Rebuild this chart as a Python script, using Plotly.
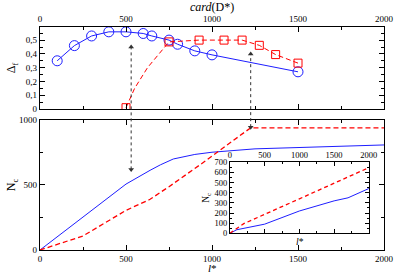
import plotly.graph_objects as go

# ---------------- data ----------------
# top panel: Delta_f vs card(D*)
blue_card = [100, 200, 300, 400, 500, 600, 650, 750, 800, 900, 1000, 1500]
blue_delta = [0.35, 0.46, 0.53, 0.56, 0.56, 0.548, 0.53, 0.50, 0.47, 0.422, 0.393, 0.27]

red_line_card = [500, 550, 625, 750, 925, 1070, 1175, 1275, 1370, 1500]
red_line_delta = [0.01, 0.15, 0.30, 0.487, 0.50, 0.50, 0.50, 0.462, 0.395, 0.333]
red_mark_card = [500, 750, 925, 1070, 1175, 1275, 1370, 1500]
red_mark_delta = [0.01, 0.487, 0.50, 0.50, 0.50, 0.462, 0.395, 0.333]

# bottom panel: N_c vs l*
blue_l = [0, 500, 640, 700, 775, 900, 1000, 1250, 2000]
blue_nc = [0, 507, 613, 655, 700, 735, 752, 778, 808]
red_l = [0, 250, 500, 640, 750, 930, 1225, 2000]
red_nc = [0, 108, 305, 390, 487, 655, 940, 940]

# inset: N_c vs l*
inset_blue_l = [0, 100, 500, 1000, 1500, 1700, 2000]
inset_blue_nc = [0, 35, 90, 220, 320, 350, 442]
inset_red_l = [0, 200, 1000, 2000]
inset_red_nc = [0, 95, 340, 648]

# dotted arrows (x position, head in top panel, head in bottom panel)
arrow_x = [530, 1225]
arrow_top_delta = [0.45, 0.40]
arrow_bottom_nc = [620, 945]

# ---------------- layout constants ----------------
W, H = 395, 274
ML, MR, MT, MB = 40, 11, 27, 24
TOP_DOM = [0.632, 1.0]
BOT_DOM = [0.0, 0.583]
TOP_RANGE = [0, 0.595]
BOT_RANGE = [0, 1000]
INSET_X_DOM = [0.552, 0.956]
INSET_Y_DOM = [0.075, 0.393]

BLUE = "rgb(30,30,255)"
RED = "rgb(255,0,0)"
ARROW = "#333333"
FONT = "Liberation Serif"

fig = go.Figure()

fig.add_trace(go.Scatter(x=blue_card, y=blue_delta, mode="lines+markers",
                         line=dict(color=BLUE, width=1),
                         marker=dict(symbol="circle-open", size=10, color=BLUE, line=dict(width=1)),
                         xaxis="x2", yaxis="y2", showlegend=False))
fig.add_trace(go.Scatter(x=red_line_card, y=red_line_delta, mode="lines",
                         line=dict(color=RED, width=1, dash="5px,3px"),
                         xaxis="x2", yaxis="y2", showlegend=False))
fig.add_trace(go.Scatter(x=red_mark_card, y=red_mark_delta, mode="markers",
                         marker=dict(symbol="square-open", size=8, color=RED, line=dict(width=1)),
                         xaxis="x2", yaxis="y2", showlegend=False))

fig.add_trace(go.Scatter(x=blue_l, y=blue_nc, mode="lines",
                         line=dict(color=BLUE, width=1), xaxis="x", yaxis="y", showlegend=False))
fig.add_trace(go.Scatter(x=red_l, y=red_nc, mode="lines",
                         line=dict(color=RED, width=1.3, dash="5px,3px"), xaxis="x", yaxis="y",
                         showlegend=False))

fig.add_trace(go.Scatter(x=inset_blue_l, y=inset_blue_nc, mode="lines",
                         line=dict(color=BLUE, width=1), xaxis="x3", yaxis="y3", showlegend=False))
fig.add_trace(go.Scatter(x=inset_red_l, y=inset_red_nc, mode="lines",
                         line=dict(color=RED, width=1.3, dash="4px,3px"), xaxis="x3", yaxis="y3",
                         showlegend=False))

# arrow heads as marker traces
fig.add_trace(go.Scatter(x=arrow_x, y=arrow_top_delta, mode="markers",
                         marker=dict(symbol="triangle-up", size=5, color=ARROW),
                         xaxis="x2", yaxis="y2", showlegend=False, cliponaxis=False))
fig.add_trace(go.Scatter(x=arrow_x, y=arrow_bottom_nc, mode="markers",
                         marker=dict(symbol="triangle-down", size=5, color=ARROW),
                         xaxis="x", yaxis="y", showlegend=False, cliponaxis=False))


def paper_y(v, dom, rng):
    return dom[0] + (v - rng[0]) / (rng[1] - rng[0]) * (dom[1] - dom[0])


shapes = []
for xa, td, bn in zip(arrow_x, arrow_top_delta, arrow_bottom_nc):
    yt = paper_y(td, TOP_DOM, TOP_RANGE)
    yb = paper_y(bn, BOT_DOM, BOT_RANGE)
    shapes.append(dict(type="line", xref="x", yref="paper", x0=xa, x1=xa, y0=yb, y1=yt,
                       line=dict(color=ARROW, width=1, dash="dot")))

tickfont = dict(family=FONT, size=9, color="black")
insetfont = dict(family=FONT, size=8.5, color="black")
common = dict(showline=True, linecolor="black", linewidth=1.2, mirror="ticks", ticks="inside",
              ticklen=5, tickcolor="black", showgrid=False, zeroline=False, tickfont=tickfont,
              automargin=False)

delta_ticks = [0, 0.1, 0.2, 0.3, 0.4, 0.5]
delta_text = ["0", "0,1", "0,2", "0,3", "0,4", "0,5"]


def label(text, x, y, size, angle=0):
    return dict(text=text, x=x, y=y, xref="paper", yref="paper", xanchor="center", yanchor="middle",
                textangle=angle, showarrow=False, font=dict(family=FONT, size=size, color="black"))


annotations = [
    label("<i>card</i>(D*)", 0.5, 1.09, 12),
    label("Δ<sub>f</sub>", -0.081, 0.816, 12, -90),
    label("N<sub>c</sub>", -0.081, 0.291, 12, -90),
    label("<i>l</i>*", 0.5, -0.08, 11),
    label("N<sub>c</sub>", 0.482, 0.233, 9.5, -90),
    label("<i>l</i>*", 0.756, 0.035, 9.5),
]

fig.update_layout(
    width=W, height=H, margin=dict(l=ML, r=MR, t=MT, b=MB, autoexpand=False),
    paper_bgcolor="white", plot_bgcolor="white",
    font=dict(family=FONT, color="black"),
    xaxis=dict(domain=[0, 1], anchor="y", range=[0, 2000], tickvals=[0, 500, 1000, 1500, 2000],
               minor=dict(ticks="inside", ticklen=3, dtick=250, tickcolor="black"), **common),
    yaxis=dict(domain=BOT_DOM, anchor="x", range=BOT_RANGE, tickvals=[0, 500, 1000],
               minor=dict(ticks="inside", ticklen=3, dtick=250, tickcolor="black"), **common),
    xaxis2=dict(domain=[0, 1], anchor="y2", side="top", range=[0, 2000],
                tickvals=[0, 500, 1000, 1500, 2000],
                minor=dict(ticks="inside", ticklen=3, dtick=250, tickcolor="black"), **common),
    yaxis2=dict(domain=TOP_DOM, anchor="x2", range=TOP_RANGE, tickvals=delta_ticks, ticktext=delta_text,
                minor=dict(ticks="inside", ticklen=3, dtick=0.05, tickcolor="black"), **common),
    xaxis3=dict(domain=INSET_X_DOM, anchor="y3", range=[0, 2000], side="top",
                tickvals=[0, 500, 1000, 1500, 2000], tickfont=insetfont,
                minor=dict(ticks="inside", ticklen=2, dtick=250, tickcolor="black"),
                showline=True, linecolor="black", linewidth=1, mirror="ticks", ticks="inside",
                ticklen=4, tickcolor="black", showgrid=False, zeroline=False, automargin=False),
    yaxis3=dict(domain=INSET_Y_DOM, anchor="x3", range=[0, 700],
                tickvals=[0, 100, 200, 300, 400, 500, 600, 700],
                minor=dict(ticks="inside", ticklen=2, dtick=50, tickcolor="black"),
                showline=True, linecolor="black", linewidth=1, mirror="ticks", ticks="inside",
                ticklen=4, tickcolor="black", showgrid=False, zeroline=False, tickfont=insetfont,
                automargin=False),
    shapes=shapes,
    annotations=annotations,
)

# remove the browser's default 8px body margin so the 395x274 figure fills the window exactly
fig.write_html("out.html", config={"displayModeBar": False},
               post_script="document.body.style.margin='0px';")
